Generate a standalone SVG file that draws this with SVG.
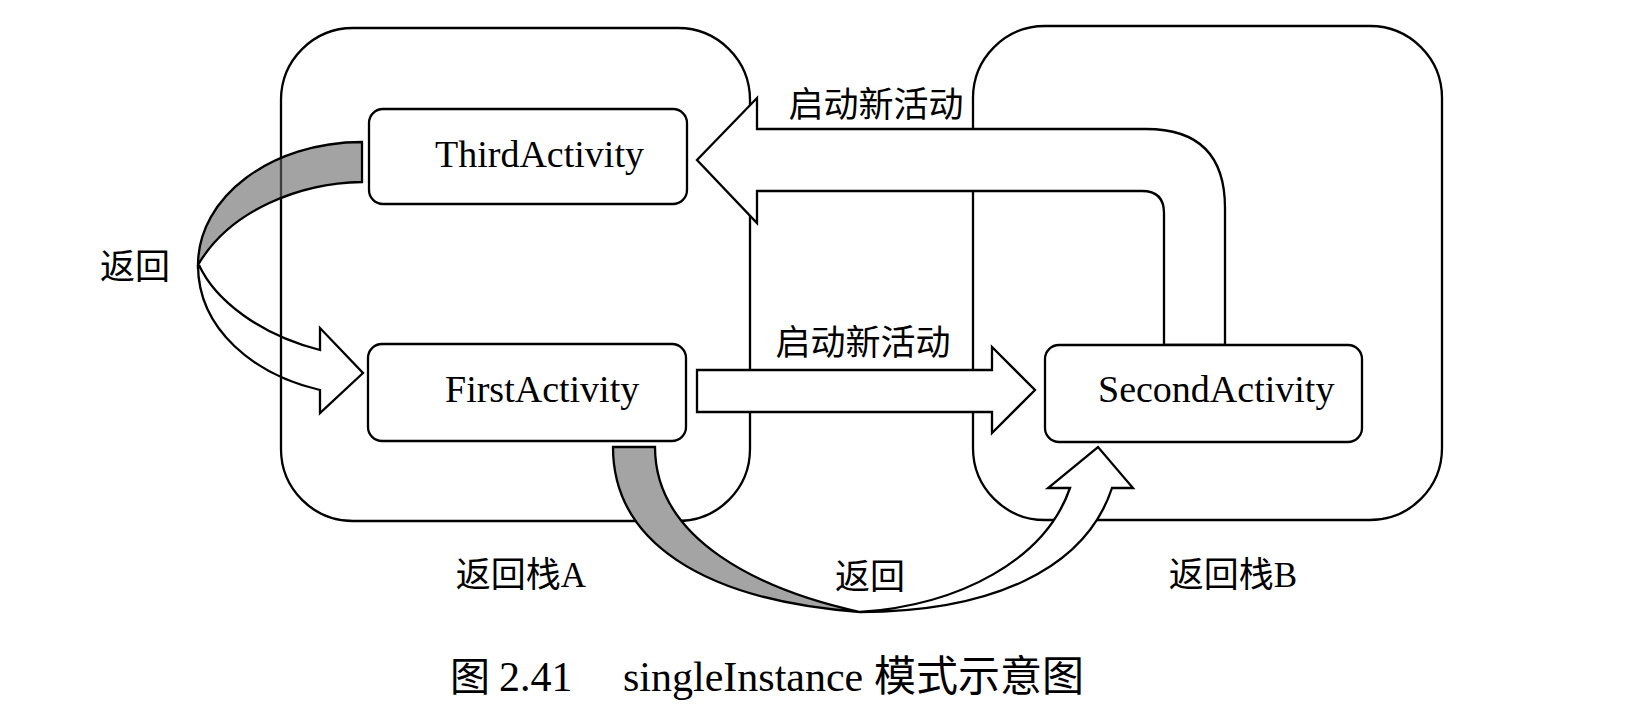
<svg xmlns="http://www.w3.org/2000/svg" width="1629" height="724" viewBox="0 0 1629 724">
<style>
.stack{fill:none;stroke:#000;stroke-width:2.3}
.box{fill:#fff;stroke:#000;stroke-width:2.3}
.arr{fill:#fff;stroke:#000;stroke-width:2.3;stroke-linejoin:miter}
.shade{fill:#666;fill-opacity:0.6;stroke:#000;stroke-width:2.3}
.hollow{fill:none;stroke:#000;stroke-width:2.3}
.lat{font-family:"Liberation Serif","Times New Roman",serif;font-size:38px;fill:#000}
.cjk{font-family:"Liberation Serif","Noto Sans CJK SC",sans-serif;font-size:35px;fill:#000}
.cap{font-family:"Liberation Serif","Noto Sans CJK SC",serif;font-size:42px;fill:#000}
.capc{font-family:"Noto Sans CJK SC",sans-serif;font-size:42px;fill:#000}
</style>
<rect width="1629" height="724" fill="#fff"/>
<g id="stackA">
<rect class="stack" x="281" y="28" width="469" height="493" rx="72" ry="72"/>
<text class="cjk" x="521" y="587" text-anchor="middle">返回栈A</text>
</g>
<g id="stackB">
<rect class="stack" x="973" y="26" width="469" height="494" rx="72" ry="72"/>
<text class="cjk" x="1233" y="587" text-anchor="middle">返回栈B</text>
</g>
<g id="connectors">
<path class="shade" d="M362,142 C271,142 198,197 198,265 C230,210 300,183 362,182 Z"/>
<path class="hollow" d="M199,265 C215,300 260,335 320,350 L320,328 L363,373 L320,413 L320,390 C255,375 198,330 198,265"/>
<path class="arr" d="M1164,345 V213 Q1164,191 1142,191 H757 V223 L697,160 L757,98 V129 H1146 Q1225,129 1225,208 V345 Z"/>
<path class="arr" d="M697,370 H992 V347 L1035,390 L992,433 V412 H697 Z"/>
<path class="shade" style="fill:#a4a4a4;fill-opacity:1" d="M613,447 C613,540 700,600 860,612 C760,590 655,540 655,447 Z"/>
<path class="arr" d="M860,612 C960,605 1045,560 1070,488 L1048,488 L1098,447 L1133,488 L1112,488 C1085,570 990,612 860,612 Z"/>
<text class="cjk" x="876" y="117" text-anchor="middle">启动新活动</text>
<text class="cjk" x="863" y="355" text-anchor="middle">启动新活动</text>
<text class="cjk" x="135" y="279" text-anchor="middle">返回</text>
<text class="cjk" x="870" y="589" text-anchor="middle">返回</text>
</g>
<g id="third">
<rect class="box" x="369" y="109" width="318" height="95" rx="14" ry="14"/>
<text class="lat" x="435" y="167">ThirdActivity</text>
</g>
<g id="first">
<rect class="box" x="368" y="344" width="318" height="97" rx="14" ry="14"/>
<text class="lat" x="445" y="402">FirstActivity</text>
</g>
<g id="second">
<rect class="box" x="1045" y="345" width="317" height="97" rx="14" ry="14"/>
<text class="lat" x="1098" y="402">SecondActivity</text>
</g>
<g id="caption">
<text class="capc" x="450" y="691" style="font-size:40px">图</text>
<text class="cap" y="691"><tspan x="499">2.41</tspan><tspan x="623">singleInstance</tspan></text>
<text class="capc" x="874" y="691">模式示意图</text>
</g>
</svg>
